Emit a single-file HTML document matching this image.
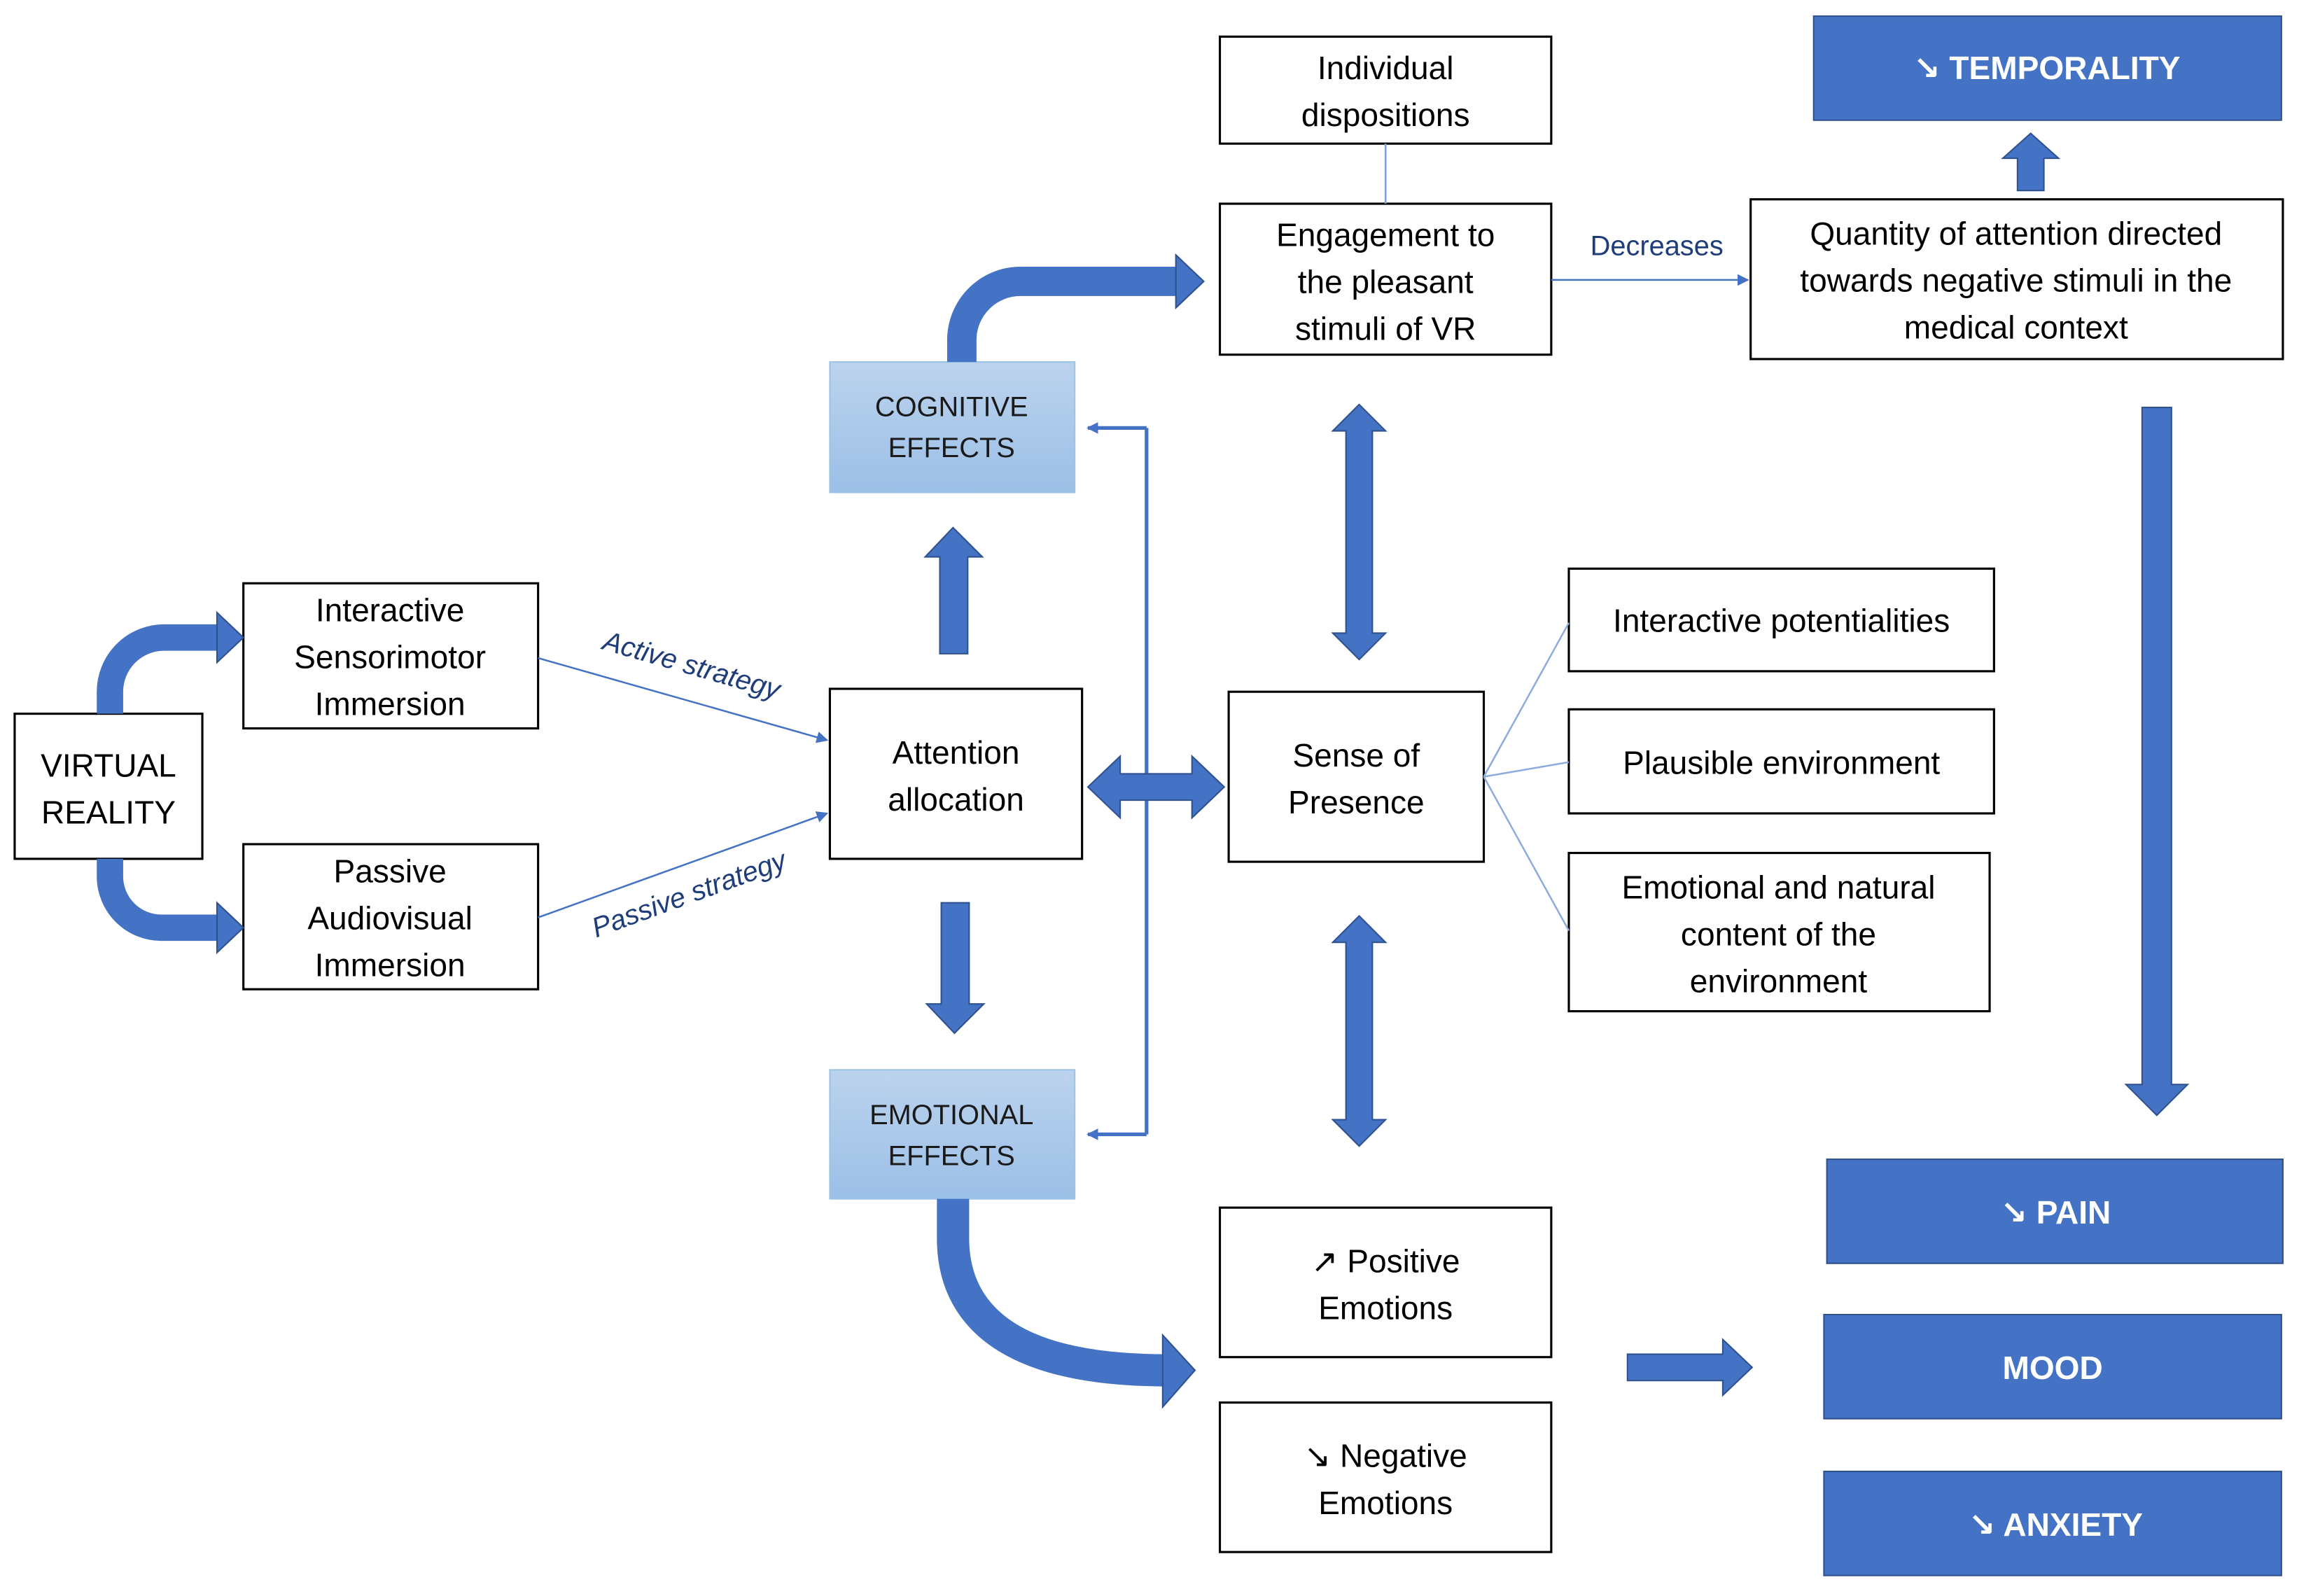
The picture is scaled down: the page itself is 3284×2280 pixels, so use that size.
<!DOCTYPE html>
<html><head><meta charset="utf-8"><style>
html,body{margin:0;padding:0;background:#fff;}
svg{display:block;}
text{font-family:"Liberation Sans","DejaVu Sans",sans-serif;}
</style></head><body>
<svg width="3284" height="2280" viewBox="0 0 1568 1089" preserveAspectRatio="none" xmlns="http://www.w3.org/2000/svg">
<defs>
<linearGradient id="g" x1="0" y1="0" x2="0" y2="1">
<stop offset="0" stop-color="#bcd3ee"/><stop offset="1" stop-color="#9bbfe6"/>
</linearGradient>
<marker id="ah" markerWidth="8" markerHeight="8" refX="7" refY="4" orient="auto" markerUnits="userSpaceOnUse">
<path d="M0,0 L8,4 L0,8 z" fill="#4472C4"/></marker>
</defs>
<g fill="#fff" stroke="#000" stroke-width="1.5">
<rect x="832" y="25" width="226" height="73"/>
<rect x="832" y="139" width="226" height="103"/>
<rect x="1194" y="136" width="363" height="109"/>
<rect x="1070" y="388" width="290" height="70"/>
<rect x="1070" y="484" width="290" height="71"/>
<rect x="1070" y="582" width="287" height="108"/>
<rect x="838" y="472" width="174" height="116"/>
<rect x="566" y="470" width="172" height="116"/>
<rect x="10" y="487" width="128" height="99"/>
<rect x="166" y="398" width="201" height="99"/>
<rect x="166" y="576" width="201" height="99"/>
<rect x="832" y="824" width="226" height="102"/>
<rect x="832" y="957" width="226" height="102"/>
</g>
<g fill="#4472C4" stroke="#2F528F" stroke-width="1">
<rect x="1237" y="11" width="319" height="71"/>
<rect x="1246" y="791" width="311" height="71"/>
<rect x="1244" y="897" width="312" height="71"/>
<rect x="1244" y="1004" width="312" height="71"/>
</g>
<g fill="url(#g)" stroke="#9dc3e6" stroke-width="1">
<rect x="566" y="247" width="167" height="89"/>
<rect x="566" y="730" width="167" height="88"/>
</g>
<!-- thin lines -->
<g stroke="#4472C4" stroke-width="1.2" fill="none">
<line x1="945" y1="98" x2="945" y2="139" stroke="#7f9fd6"/>
<line x1="1058" y1="191" x2="1192" y2="191" marker-end="url(#ah)"/>
<line x1="367" y1="449" x2="564" y2="505" marker-end="url(#ah)"/>
<line x1="367" y1="626" x2="564" y2="555" marker-end="url(#ah)"/>
<line x1="1012" y1="530" x2="1070" y2="425" stroke="#8faadc"/>
<line x1="1012" y1="530" x2="1070" y2="520" stroke="#8faadc"/>
<line x1="1012" y1="530" x2="1070" y2="635" stroke="#8faadc"/>
<polyline points="782,292 782,774" stroke-width="2.5"/>
<line x1="782" y1="292" x2="742" y2="292" stroke-width="2.5" marker-end="url(#ah)"/>
<line x1="782" y1="774" x2="742" y2="774" stroke-width="2.5" marker-end="url(#ah)"/>
</g>
<!-- thick curved arrows -->
<g fill="none" stroke="#4472C4" stroke-linejoin="round">
<path d="M656,247 V232 A40,40 0 0 1 696,192 H804" stroke-width="20"/>
<path d="M75,487 V472 A37,37 0 0 1 112,435 H150" stroke-width="18"/>
<path d="M75,586 V598 A35,35 0 0 0 110,633 H150" stroke-width="18"/>
<path d="M650,818 V845 C650,905 700,935 795,935" stroke-width="22"/>
</g>
<g fill="#4472C4" stroke="#2F528F" stroke-width="1">
<polygon points="802,174 821,192 802,210"/>
<polygon points="148,418 166,435 148,452"/>
<polygon points="148,616 166,633 148,650"/>
<polygon points="793,911 815,935 793,960"/>
<!-- up arrow temporality -->
<polygon points="1376,130 1394,130 1394,108 1404,108 1385,91 1366,108 1376,108"/>
<!-- up arrow attention -> cognitive -->
<polygon points="641,446 660,446 660,380 670,380 650,360 631,380 641,380"/>
<!-- down arrow attention -> emotional -->
<polygon points="642,616 661,616 661,685 671,685 651,705 632,685 642,685"/>
<!-- big down arrow -->
<polygon points="1461,278 1481,278 1481,740 1492,740 1471,761 1450,740 1461,740"/>
<!-- double vertical top -->
<polygon points="927,276 945,294 936,294 936,432 945,432 927,450 909,432 918,432 918,294 909,294"/>
<!-- double vertical bottom -->
<polygon points="927,625 945,643 936,643 936,764 945,764 927,782 909,764 918,764 918,643 909,643"/>
<!-- double horizontal -->
<polygon points="742,537 764,516 764,528 813,528 813,516 835,537 813,558 813,546 764,546 764,558"/>
<!-- right arrow to mood -->
<polygon points="1110,924 1175,924 1175,914 1195,933 1175,952 1175,942 1110,942"/>
</g>
<!-- texts -->
<g font-size="22" fill="#000" text-anchor="middle">
<text x="945" y="54">Individual</text><text x="945" y="86">dispositions</text>
<text x="945" y="168">Engagement to</text><text x="945" y="200">the pleasant</text><text x="945" y="232">stimuli of VR</text>
<text x="1375" y="167">Quantity of attention directed</text><text x="1375" y="199">towards negative stimuli in the</text><text x="1375" y="231">medical context</text>
<text x="1215" y="431">Interactive potentialities</text>
<text x="1215" y="528">Plausible environment</text>
<text x="1213" y="613">Emotional and natural</text><text x="1213" y="645">content of the</text><text x="1213" y="677">environment</text>
<text x="925" y="523">Sense of</text><text x="925" y="555">Presence</text>
<text x="652" y="521">Attention</text><text x="652" y="553">allocation</text>
<text x="74" y="530">VIRTUAL</text><text x="74" y="562">REALITY</text>
<text x="266" y="424">Interactive</text><text x="266" y="456">Sensorimotor</text><text x="266" y="488">Immersion</text>
<text x="266" y="602">Passive</text><text x="266" y="634">Audiovisual</text><text x="266" y="666">Immersion</text>
<text x="945" y="868">↗  Positive</text><text x="945" y="900">Emotions</text>
<text x="945" y="1001">↘   Negative</text><text x="945" y="1033">Emotions</text>
</g>
<g font-size="19" fill="#1a1a1a" text-anchor="middle">
<text x="649" y="284">COGNITIVE</text><text x="649" y="312">EFFECTS</text>
<text x="649" y="767">EMOTIONAL</text><text x="649" y="795">EFFECTS</text>
</g>
<g font-size="22" fill="#fff" font-weight="bold" text-anchor="middle">
<text x="1396" y="54">↘ TEMPORALITY</text>
<text x="1402" y="835">↘ PAIN</text>
<text x="1400" y="941">MOOD</text>
<text x="1402" y="1048">↘ ANXIETY</text>
</g>
<g font-size="19" fill="#1f3d7a" text-anchor="middle">
<text x="1130" y="174">Decreases</text>
<text x="470" y="460" transform="rotate(16 470 460)" font-style="italic">Active strategy</text>
<text x="472" y="616" transform="rotate(-20 472 616)" font-style="italic">Passive strategy</text>
</g>
</svg>
</body></html>
